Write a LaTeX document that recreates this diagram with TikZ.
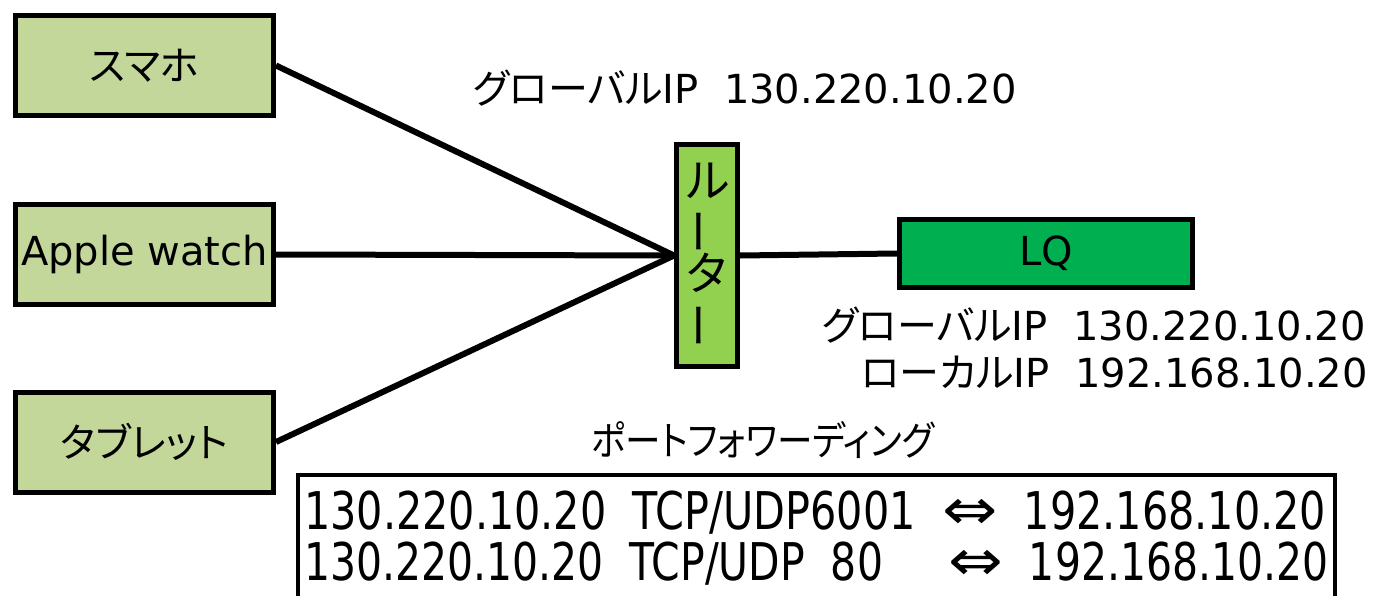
\documentclass[tikz,border=0pt]{standalone}
\usepackage{fontspec}
\usepackage{graphicx}
\setmainfont{DejaVu Sans}
\newfontfamily\jp[RawFeature=+palt]{Noto Sans CJK JP}
\newfontfamily\jpv{Noto Sans CJK JP}
\definecolor{devfill}{HTML}{C4D79B}
\definecolor{routerfill}{HTML}{92D050}
\definecolor{lqfill}{HTML}{00B050}
\newcommand{\vbar}{\rotatebox[origin=c]{90}{ー}}
\newcommand{\dblarrow}{\scalebox{1.6}[1.1]{⇔}}
\begin{document}
\begin{tikzpicture}[x=1pt,y=-1pt,
  devbox/.style={draw=black,line width=5pt,fill=devfill,minimum width=258pt,minimum height=100pt,inner sep=0pt,font=\fontsize{40}{48}\selectfont},
  routerbox/.style={draw=black,line width=5pt,fill=routerfill,minimum width=61pt,minimum height=222pt,inner sep=0pt,align=center,font=\jpv\fontsize{46}{46}\selectfont},
  lqbox/.style={draw=black,line width=5pt,fill=lqfill,minimum width=293pt,minimum height=68pt,inner sep=0pt,font=\fontsize{40}{48}\selectfont},
  lbl/.style={inner sep=0pt,font=\fontsize{40}{48}\selectfont},
  wire/.style={line width=6pt}]
\useasboundingbox (0,0) rectangle (1373,596);
\node[devbox] (phone) at (144.5,65.5) {\jp スマホ};
\node[devbox] (watch) at (144.5,254.5) {Apple watch};
\node[devbox] (tablet) at (144.5,442) {\jp タブレット};
\node[routerbox] (router) at (707,255.5) {ル\\[-2pt]\vbar\\[-2pt]タ\\[-2pt]\vbar};
\node[lqbox] (lq) at (1046,253.5) {LQ};
\draw[wire] (phone.east) -- (router.west);
\draw[wire] (watch.east) -- (router.west);
\draw[wire] (tablet.east) -- (router.west);
\draw[wire] (router.east) -- (lq.west);
\node[lbl] (gip1) at (745,88) {{\jp グローバル}IP\ \ 130.220.10.20};
\node[lbl,anchor=east] (gip2) at (1366,325) {{\jp グローバル}IP\ \ 130.220.10.20};
\node[lbl,anchor=east] (lip) at (1368,372) {{\jp ローカル}IP\ \ 192.168.10.20};
\node[lbl] (pf) at (763,440) {\resizebox{343pt}{\height}{\jp ポートフォワーディング}};
\draw[line width=4pt] (298,600) -- (298,475) -- (1335,475) -- (1335,600);
\node[inner sep=0pt,anchor=base west] (row1) at (304,529) {\resizebox{1022pt}{\height}{\fontsize{52}{60}\selectfont 130.220.10.20\ \ TCP/UDP6001\ \ \dblarrow\ \ 192.168.10.20}};
\node[inner sep=0pt,anchor=base west] (row2) at (304,580) {\resizebox{1024pt}{\height}{\fontsize{52}{60}\selectfont 130.220.10.20\ \ TCP/UDP\ \ 80\ \ \ \ \ \dblarrow\ \ 192.168.10.20}};
\end{tikzpicture}
\end{document}
